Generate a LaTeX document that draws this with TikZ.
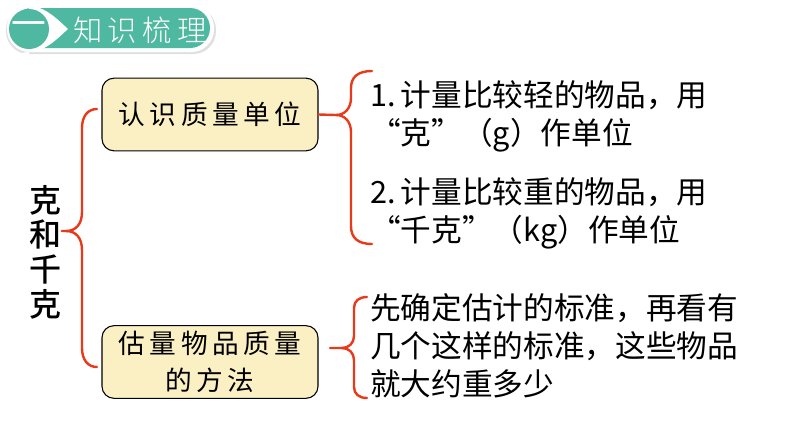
\documentclass[tikz,border=0pt]{standalone}
\usepackage{fontspec}
\setmainfont{Noto Sans CJK SC}
\newfontfamily\boxfont[LetterSpace=17]{Noto Sans CJK SC}
\newfontfamily\bannerfont[LetterSpace=18]{Noto Sans CJK SC Light}
\newfontfamily\titlefont{Noto Sans CJK SC Medium}
\definecolor{bannerteal}{HTML}{4FB8A0}
\definecolor{boxyellow}{HTML}{FBEFC4}
\definecolor{bracered}{HTML}{E8391A}
\tikzset{
    topicbox/.style={draw=black, line width=0.8pt, fill=boxyellow, rounded corners=9pt, minimum width=162pt, minimum height=54.5pt, align=center, inner sep=0pt, font=\boxfont\fontsize{20}{27.5}\selectfont},
    itemtext/.style={anchor=west, align=left, inner sep=0pt, font=\fontsize{23}{28.4}\selectfont},
    bracket/.style={draw=bracered, line width=1.8pt, line cap=round}
}
\begin{document}
\begin{tikzpicture}[x=0.75pt, y=-0.75pt]
    \useasboundingbox (0,0) rectangle (794,447);

    % Banner
    \fill[black!12, rounded corners=17pt] (6,7) rectangle (216,54);
    \fill[white, rounded corners=17pt] (7,5) rectangle (214,52);
    \fill[bannerteal, rounded corners=15pt] (12,8) rectangle (210,48);
    \fill[white] (29,6) .. controls (45,6) and (58,20) .. (68,29) .. controls (58,38) and (45,52) .. (29,52) arc[start angle=90, end angle=270, radius=23, y radius=-23] -- cycle;
    \node[circle, fill=bannerteal, minimum size=30pt, inner sep=0pt, text=white, font=\fontsize{26}{26}\selectfont] (chapter) at (29,29) {一};
    \node[text=white, anchor=west, inner sep=0pt, font=\bannerfont\fontsize{22}{22}\selectfont] (bannertitle) at (73,30) {知识梳理};

    % Left title
    \node[align=center, inner sep=0pt, minimum width=25pt, font=\titlefont\fontsize{24}{26}\selectfont] (title) at (45,252) {克\\和\\千\\克};

    % Boxes
    \node[topicbox] (unitbox) at (210,114.5) {认识质量单位};
    \node[topicbox] (methodbox) at (210,362) {估量物品质量\\的方法};

    % Right side text
    \node[itemtext] (lightitem) at (370,116) {1.\,计量比较轻的物品，用\\“克”（g）作单位};
    \node[itemtext] (heavyitem) at (370,213.5) {2.\,计量比较重的物品，用\\“千克”（kg）作单位};
    \node[itemtext] (methoditem) at (370,346) {先确定估计的标准，再看有\\几个这样的标准，这些物品\\就大约重多少};

    % Brace ends
    \coordinate (titlejoin) at (66,231);
    \coordinate (titletop) at (97,109);
    \coordinate (titlebottom) at (97,367);
    \coordinate (unittop) at (372,71);
    \coordinate (unitbottom) at (372,244);
    \coordinate (methodtip) at (330,348);
    \coordinate (methodtop) at (367,297);
    \coordinate (methodbottom) at (367,398);

    % Braces
    \draw[bracket] (titlejoin -| title.east) -- (titlejoin) .. controls (76,231) and (82,224) .. (82,212) -- (82,128) .. controls (82,116) and (88,109) .. (titletop);
    \draw[bracket] (titlejoin) .. controls (76,231) and (82,238) .. (82,250) -- (82,348) .. controls (82,360) and (88,367) .. (titlebottom);
    \draw[bracket] (unitbox.east) -- (336,115) .. controls (345,115) and (351,108) .. (351,98) -- (351,88) .. controls (351,77) and (358,71) .. (unittop);
    \draw[bracket] (336,115) .. controls (345,115) and (351,122) .. (351,132) -- (351,226) .. controls (351,238) and (358,244) .. (unitbottom);
    \draw[bracket] (methodtip) -- (342,348) .. controls (349,348) and (354,343) .. (354,336) -- (354,308) .. controls (354,301) and (359,297) .. (methodtop);
    \draw[bracket] (342,348) .. controls (349,348) and (354,353) .. (354,360) -- (354,387) .. controls (354,394) and (359,398) .. (methodbottom);
\end{tikzpicture}
\end{document}
